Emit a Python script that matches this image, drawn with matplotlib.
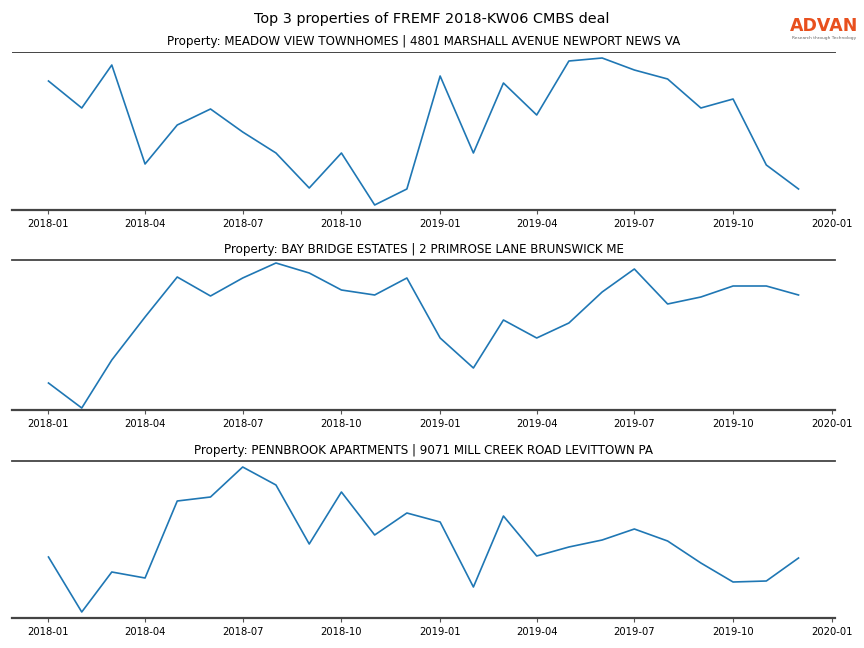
import matplotlib
matplotlib.use("Agg")
import matplotlib.pyplot as plt
import pandas as pd

months = pd.date_range("2018-01-01", "2019-12-01", freq="MS")

titles = [
    "Property: MEADOW VIEW TOWNHOMES | 4801 MARSHALL AVENUE NEWPORT NEWS VA",
    "Property: BAY BRIDGE ESTATES | 2 PRIMROSE LANE BRUNSWICK ME",
    "Property: PENNBROOK APARTMENTS | 9071 MILL CREEK ROAD LEVITTOWN PA",
]

meadow_view = [139, 112, 155, 56, 95, 111, 88, 67, 32, 67, 15, 31, 144, 67, 137, 105, 159, 162, 150, 141, 112, 121, 55, 31]
bay_bridge = [37, 12, 60, 103, 143, 124, 142, 157, 147, 130, 125, 142, 82, 52, 100, 82, 97, 128, 151, 116, 123, 134, 134, 125]
pennbrook = [63, 8, 48, 42, 119, 123, 153, 135, 76, 128, 85, 107, 98, 33, 104, 64, 73, 80, 91, 79, 57, 38, 39, 62]

series = [meadow_view, bay_bridge, pennbrook]
ylims = [(10, 168), (10, 160), (2, 159)]

fig = plt.figure(figsize=(8.64, 6.48), dpi=100)
W, H = 864, 648
boxes = [(52, 210), (260, 410), (461, 618)]
axes = []
for (top, bot), vals, title, yl in zip(boxes, series, titles, ylims):
    ax = fig.add_axes([12 / W, 1 - bot / H, (835 - 12) / W, (bot - top) / H])
    ax.plot(months, vals, color="#1f77b4", lw=1.2)
    ax.set_title(title, fontsize=8.6, pad=5)
    ax.set_yticks([])
    ax.set_ylim(*yl)
    ax.set_xlim(pd.Timestamp("2017-11-28"), pd.Timestamp("2020-01-04"))
    ax.set_xticks(pd.date_range("2018-01-01", "2020-01-01", freq="3MS"))
    ax.xaxis.set_major_formatter(matplotlib.dates.DateFormatter("%Y-%m"))
    ax.tick_params(axis="x", labelsize=7.2, length=3, color="#555555")
    ax.spines["left"].set_visible(False)
    ax.spines["right"].set_visible(False)
    ax.spines["bottom"].set_color("#444444")
    ax.spines["bottom"].set_linewidth(1.6)
    ax.spines["top"].set_color("#444444")
    ax.spines["top"].set_linewidth(1.3)
    axes.append(ax)

axes[0].spines["top"].set_linewidth(0.7)

fig.text(432 / W, 1 - 19 / H, "Top 3 properties of FREMF 2018-KW06 CMBS deal",
         ha="center", va="center", fontsize=10.35)
fig.text(824.5 / W, 1 - 26 / H, "ADVAN", ha="center", va="center",
         fontsize=12.5, color="#e8501e", fontweight="semibold")
fig.text(824 / W, 1 - 38 / H, "Research through Technology", ha="center", va="center",
         fontsize=3.2, color="#666666")

fig.savefig("out.png", dpi=100)
